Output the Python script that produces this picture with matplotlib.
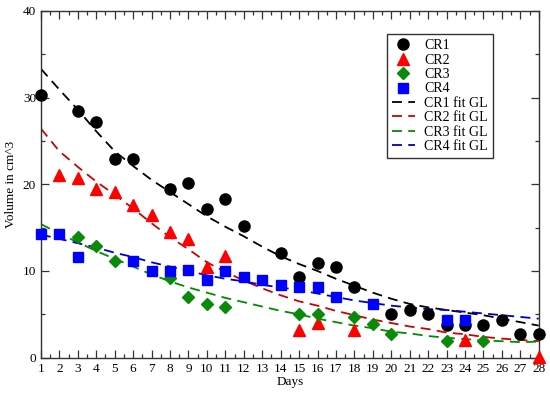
import numpy as np
import matplotlib
matplotlib.use("Agg")
import matplotlib.pyplot as plt
from matplotlib.ticker import MultipleLocator

# measured volumes (cm^3) per day
cr1_days = [1, 3, 4, 5, 6, 8, 9, 10, 11, 12, 14, 15, 16, 17, 18, 20, 21, 22, 23, 24, 25, 26, 27, 28]
cr1_vals = [30.3, 28.4, 27.2, 22.9, 22.9, 19.5, 20.2, 17.2, 18.3, 15.2, 12.1, 9.3, 10.9, 10.5, 8.15,
            5.0, 5.45, 5.0, 3.8, 3.8, 3.8, 4.3, 2.7, 2.7]

cr2_days = [2, 3, 4, 5, 6, 7, 8, 9, 10, 11, 15, 16, 18, 24, 28]
cr2_vals = [21.1, 20.7, 19.5, 19.1, 17.6, 16.4, 14.5, 13.7, 10.5, 11.7, 3.2, 4.0, 3.2, 2.0, 0.1]

cr3_days = [3, 4, 5, 8, 9, 10, 11, 15, 16, 18, 19, 20, 23, 25]
cr3_vals = [13.9, 12.9, 11.2, 9.15, 7.0, 6.15, 5.8, 5.0, 5.0, 4.7, 3.85, 2.7, 1.95, 1.95]

cr4_days = [1, 2, 3, 6, 7, 8, 9, 10, 11, 12, 13, 14, 15, 16, 17, 19, 23, 24]
cr4_vals = [14.3, 14.3, 11.6, 11.2, 10.0, 10.0, 10.1, 8.95, 10.0, 9.3, 8.95, 8.4, 8.1, 8.1, 7.0,
            6.15, 4.3, 4.3]

# GL fit curves, one value per day 1..28
fit_days = list(range(1, 29))
cr1_fit = [33.3, 30.9, 28.6, 26.1, 23.8, 22.1, 20.5, 19.1, 17.7, 16.3, 15.1, 14.0, 12.8, 11.7,
           10.8, 10.0, 9.1, 8.3, 7.5, 6.8, 6.2, 5.8, 5.5, 5.2, 4.9, 4.5, 4.1, 3.7]
cr2_fit = [26.4, 23.8, 22.0, 20.3, 18.8, 17.2, 15.5, 13.9, 12.5, 11.0, 9.9, 8.9, 8.0, 7.2,
           6.5, 6.0, 5.4, 4.9, 4.4, 4.0, 3.6, 3.3, 2.9, 2.7, 2.4, 2.2, 2.05, 1.9]
cr3_fit = [15.4, 14.3, 13.3, 12.3, 11.4, 10.5, 9.6, 8.8, 8.1, 7.5, 6.9, 6.4, 5.9, 5.4,
           5.0, 4.5, 4.1, 3.7, 3.4, 3.0, 2.8, 2.5, 2.3, 2.15, 2.0, 1.9, 1.8, 1.85]
cr4_fit = [14.2, 13.7, 13.2, 12.7, 12.1, 11.6, 11.0, 10.5, 10.0, 9.5, 9.1, 8.8, 8.4, 8.1,
           7.8, 7.4, 7.0, 6.6, 6.3, 6.0, 5.8, 5.6, 5.5, 5.3, 5.1, 4.9, 4.7, 4.5]

plt.rcParams['font.family'] = ['Liberation Serif', 'DejaVu Serif']

fig = plt.figure(figsize=(5.5, 3.99), dpi=100)
ax = fig.add_axes([0.0745, 0.1035, 0.905, 0.8695])

# markers are not clipped at the frame, as in the original
ax.plot(cr1_days, cr1_vals, "o", color="black", ms=8, ls="none", label="CR1", clip_on=False, zorder=3)
ax.plot(cr2_days, cr2_vals, "^", color="#ff0000", ms=8.5, ls="none", label="CR2", clip_on=False, zorder=3)
ax.plot(cr3_days, cr3_vals, "D", color="#0a8a0a", ms=6.5, ls="none", label="CR3", clip_on=False, zorder=3)
ax.plot(cr4_days, cr4_vals, "s", color="#0000ff", ms=7.8, ls="none", label="CR4", clip_on=False, zorder=3)

dash = (0, (5.5, 3.5))
ax.plot(fit_days, cr1_fit, color="black", lw=1.3, ls=dash, label="CR1 fit GL")
ax.plot(fit_days, cr2_fit, color="#d00000", lw=1.3, ls=dash, label="CR2 fit GL")
ax.plot(fit_days, cr3_fit, color="#008b00", lw=1.3, ls=dash, label="CR3 fit GL")
ax.plot(fit_days, cr4_fit, color="#0000c0", lw=1.3, ls=dash, label="CR4 fit GL")

ax.set_xlim(1, 28)
ax.set_ylim(0, 40)
ax.set_xticks(range(1, 29))
ax.xaxis.set_minor_locator(MultipleLocator(0.5))
ax.yaxis.set_major_locator(MultipleLocator(10))
ax.yaxis.set_minor_locator(MultipleLocator(5))
ax.tick_params(which="both", direction="in", top=True, right=True, labelsize=9.5, pad=3.5,
               color="#333333")
ax.tick_params(which="major", length=5.5, width=0.9)
ax.tick_params(which="minor", length=3, width=0.9)
for s in ax.spines.values():
    s.set_color("#333333")
    s.set_linewidth(1.0)

ax.set_xlabel("Days", fontsize=9.5, labelpad=1)
ax.set_ylabel("Volume in cm^3", fontsize=9.5, labelpad=4)

leg = ax.legend(loc="upper right", bbox_to_anchor=(0.9076, 0.932), borderaxespad=0,
                fontsize=10, labelspacing=0.1, handlelength=1.63, handletextpad=0.7,
                fancybox=False, framealpha=1, edgecolor="#333333", borderpad=0.35)
leg.get_frame().set_linewidth(1.0)

fig.savefig("out.png", dpi=100)
